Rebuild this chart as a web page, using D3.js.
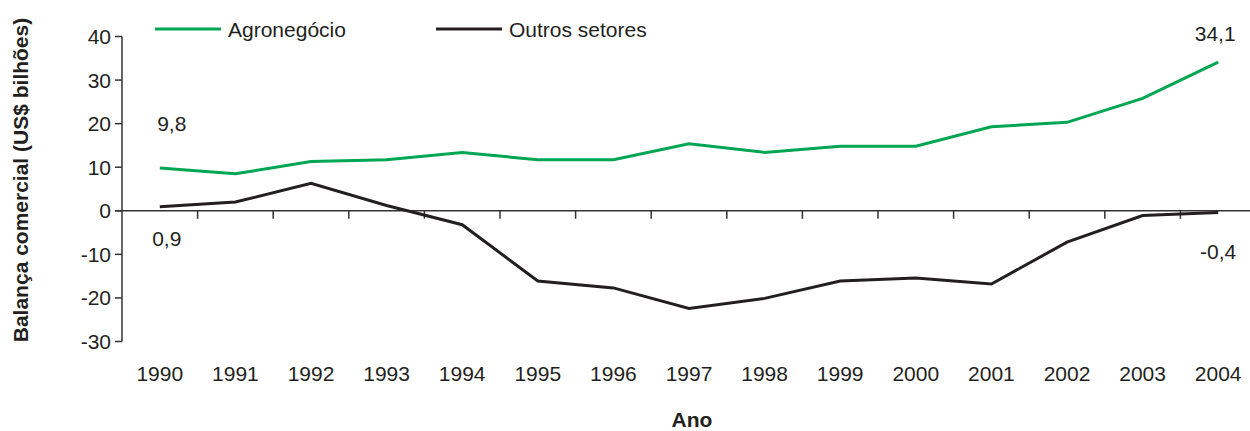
<!DOCTYPE html>
<html>
<head>
<meta charset="utf-8">
<script src="https://cdn.jsdelivr.net/npm/d3@7"></script>
<style>
  body { margin: 0; background: #fff; }
  svg { display: block; font-family: "Liberation Sans", Arial, sans-serif; }
</style>
</head>
<body>
<svg id="chart" width="1250" height="431"></svg>
<script>
var anos = ["1990", "1991", "1992", "1993", "1994", "1995", "1996", "1997",
            "1998", "1999", "2000", "2001", "2002", "2003", "2004"];
var agronegocio = [9.8, 8.5, 11.3, 11.7, 13.4, 11.7, 11.7, 15.4, 13.4, 14.8, 14.8, 19.3, 20.3, 25.8, 34.1];
var outros = [0.9, 2.0, 6.3, 1.2, -3.2, -16.1, -17.7, -22.4, -20.1, -16.1, -15.4, -16.8, -7.2, -1.1, -0.4];
var yTicks = [-30, -20, -10, 0, 10, 20, 30, 40];
var rotulos = [
    { ano: "1990", v: 9.8, txt: "9,8", dx: 12, dy: -37 },
    { ano: "1990", v: 0.9, txt: "0,9", dx: 7, dy: 39 },
    { ano: "2004", v: 34.1, txt: "34,1", dx: -3, dy: -21 },
    { ano: "2004", v: -0.4, txt: "-0,4", dx: 0, dy: 46 }
];

var svg = d3.select("#chart");

var x = d3.scaleBand()
    .domain(anos)
    .range([122, 1256]);

var y = d3.scaleLinear()
    .domain([-30, 40])
    .range([341.5, 36.5]);

var cx = function (a) { return x(a) + x.bandwidth() / 2 };

// eixo y
svg.append("line")
    .attr("x1", 122).attr("x2", 122)
    .attr("y1", y(40)).attr("y2", y(-30))
    .attr("stroke", "#333").attr("stroke-width", 1.5);

svg.selectAll(".ytick")
    .data(yTicks)
    .enter()
    .append("line")
    .attr("x1", 115).attr("x2", 122)
    .attr("y1", function (d) { return y(d) })
    .attr("y2", function (d) { return y(d) })
    .attr("stroke", "#333").attr("stroke-width", 1.5);

svg.selectAll(".ylab")
    .data(yTicks)
    .enter()
    .append("text")
    .attr("x", 111)
    .attr("y", function (d) { return y(d) })
    .attr("dy", "0.36em")
    .attr("text-anchor", "end")
    .attr("font-size", 21)
    .attr("fill", "#231f20")
    .text(function (d) { return d });

// linha do zero e marcas do eixo x
svg.append("line")
    .attr("x1", 115).attr("x2", 1250)
    .attr("y1", y(0)).attr("y2", y(0))
    .attr("stroke", "#333").attr("stroke-width", 1.5);

svg.selectAll(".xtick")
    .data(anos.slice(1))
    .enter()
    .append("line")
    .attr("x1", function (d) { return x(d) })
    .attr("x2", function (d) { return x(d) })
    .attr("y1", y(0)).attr("y2", y(0) + 8)
    .attr("stroke", "#333").attr("stroke-width", 1.5);

svg.selectAll(".xlab")
    .data(anos)
    .enter()
    .append("text")
    .attr("x", function (d) { return cx(d) })
    .attr("y", 381)
    .attr("text-anchor", "middle")
    .attr("font-size", 21)
    .attr("fill", "#231f20")
    .text(function (d) { return d });

// títulos dos eixos
svg.append("text")
    .attr("transform", "translate(28,180) rotate(-90)")
    .attr("text-anchor", "middle")
    .attr("font-size", 21)
    .attr("font-weight", "bold")
    .attr("fill", "#231f20")
    .text("Balança comercial (US$ bilhões)");

svg.append("text")
    .attr("x", 692).attr("y", 427)
    .attr("text-anchor", "middle")
    .attr("font-size", 21)
    .attr("font-weight", "bold")
    .attr("fill", "#231f20")
    .text("Ano");

// séries
var line = d3.line()
    .x(function (d, i) { return cx(anos[i]) })
    .y(function (d) { return y(d) });

svg.append("path")
    .attr("d", line(outros))
    .attr("fill", "none")
    .attr("stroke", "#231f20")
    .attr("stroke-width", 3);

svg.append("path")
    .attr("d", line(agronegocio))
    .attr("fill", "none")
    .attr("stroke", "#00a651")
    .attr("stroke-width", 3);

// rótulos de valores
svg.selectAll(".rot")
    .data(rotulos)
    .enter()
    .append("text")
    .attr("x", function (d) { return cx(d.ano) + d.dx })
    .attr("y", function (d) { return y(d.v) + d.dy })
    .attr("text-anchor", "middle")
    .attr("font-size", 21)
    .attr("fill", "#231f20")
    .text(function (d) { return d.txt });

// legenda
var legenda = [
    { nome: "Agronegócio", cor: "#00a651", x: 155 },
    { nome: "Outros setores", cor: "#231f20", x: 436 }
];
var lg = svg.selectAll(".leg")
    .data(legenda)
    .enter()
    .append("g")
    .attr("transform", function (d) { return "translate(" + d.x + ",29)" });
lg.append("line")
    .attr("x1", 0).attr("x2", 66)
    .attr("stroke", function (d) { return d.cor })
    .attr("stroke-width", 3);
lg.append("text")
    .attr("x", 73).attr("dy", "0.36em")
    .attr("font-size", 21)
    .attr("fill", "#231f20")
    .text(function (d) { return d.nome });
</script>
</body>
</html>
